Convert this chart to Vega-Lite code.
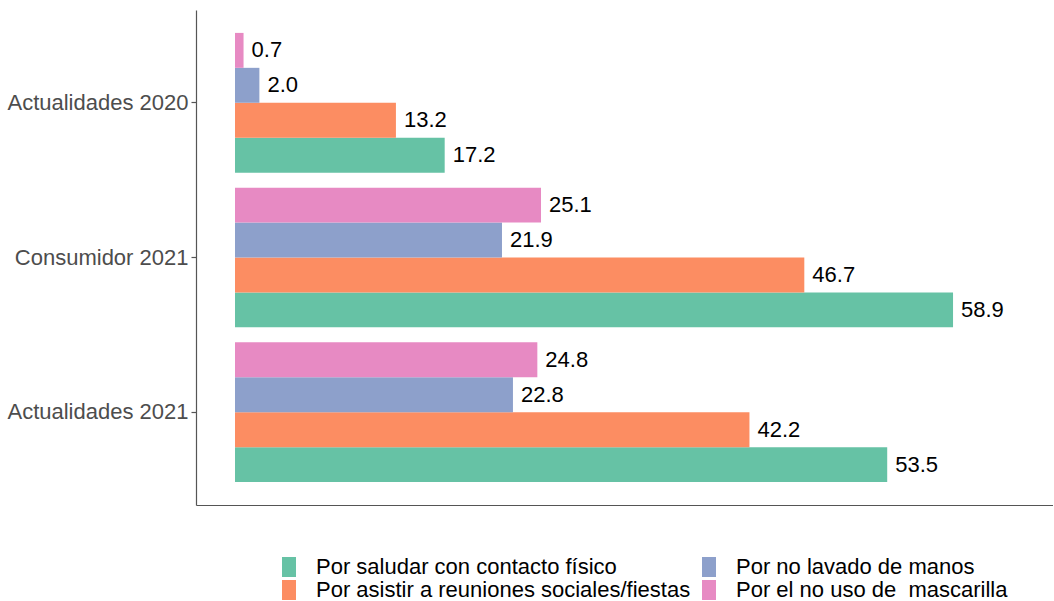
{
  "$schema": "https://vega.github.io/schema/vega-lite/v6.json",
  "width": 857,
  "height": 495,
  "padding": {"left": 6, "top": 10, "right": 0, "bottom": 0},
  "background": "white",
  "config": {
    "view": {"stroke": null},
    "font": "Liberation Sans"
  },
  "data": {
    "values": [
      {"grupo": "Actualidades 2020", "motivo": "Por saludar con contacto físico", "valor": 17.2},
      {"grupo": "Actualidades 2020", "motivo": "Por asistir a reuniones sociales/fiestas", "valor": 13.2},
      {"grupo": "Actualidades 2020", "motivo": "Por no lavado de manos", "valor": 2.0},
      {"grupo": "Actualidades 2020", "motivo": "Por el no uso de \u00a0mascarilla", "valor": 0.7},
      {"grupo": "Consumidor 2021", "motivo": "Por saludar con contacto físico", "valor": 58.9},
      {"grupo": "Consumidor 2021", "motivo": "Por asistir a reuniones sociales/fiestas", "valor": 46.7},
      {"grupo": "Consumidor 2021", "motivo": "Por no lavado de manos", "valor": 21.9},
      {"grupo": "Consumidor 2021", "motivo": "Por el no uso de \u00a0mascarilla", "valor": 25.1},
      {"grupo": "Actualidades 2021", "motivo": "Por saludar con contacto físico", "valor": 53.5},
      {"grupo": "Actualidades 2021", "motivo": "Por asistir a reuniones sociales/fiestas", "valor": 42.2},
      {"grupo": "Actualidades 2021", "motivo": "Por no lavado de manos", "valor": 22.8},
      {"grupo": "Actualidades 2021", "motivo": "Por el no uso de \u00a0mascarilla", "valor": 24.8}
    ]
  },
  "encoding": {
    "y": {
      "field": "grupo",
      "type": "nominal",
      "sort": ["Actualidades 2020", "Consumidor 2021", "Actualidades 2021"],
      "scale": {"paddingInner": 0.097, "paddingOuter": 0.148},
      "axis": {
        "title": null,
        "labelFontSize": 22,
        "labelColor": "#4d4d4d",
        "labelLimit": 400,
        "labelPadding": 3,
        "tickColor": "#555555",
        "tickSize": 5,
        "domainColor": "#555555",
        "domainWidth": 1.2,
        "tickWidth": 1.2
      }
    },
    "yOffset": {
      "field": "motivo",
      "type": "nominal",
      "sort": ["Por el no uso de \u00a0mascarilla", "Por no lavado de manos", "Por asistir a reuniones sociales/fiestas", "Por saludar con contacto físico"],
      "scale": {"paddingInner": 0, "paddingOuter": 0}
    },
    "x": {
      "field": "valor",
      "type": "quantitative",
      "scale": {"domain": [-3.2, 67.1], "nice": false, "zero": false},
      "axis": {
        "title": null,
        "labels": false,
        "ticks": false,
        "grid": false,
        "domainColor": "#555555",
        "domainWidth": 1.2
      }
    }
  },
  "layer": [
    {
      "mark": {"type": "bar"},
      "encoding": {
        "x2": {"datum": 0},
        "color": {
          "field": "motivo",
          "type": "nominal",
          "scale": {
            "domain": ["Por saludar con contacto físico", "Por asistir a reuniones sociales/fiestas", "Por no lavado de manos", "Por el no uso de \u00a0mascarilla"],
            "range": ["#66c2a5", "#fc8d62", "#8da0cb", "#e78ac3"]
          },
          "legend": {
            "title": null,
            "orient": "none",
            "legendX": 82,
            "legendY": 546,
            "columns": 2,
            "columnPadding": 7,
            "rowPadding": 1,
            "labelFontSize": 22,
            "labelColor": "black",
            "labelLimit": 600,
            "symbolType": "M-0.7,-1H0.7V1H-0.7Z",
            "symbolSize": 400,
            "symbolStrokeWidth": 0,
            "symbolOpacity": 1,
            "labelOffset": 16
          }
        }
      }
    },
    {
      "mark": {"type": "text", "align": "left", "baseline": "middle", "dx": 8, "fontSize": 22, "color": "black"},
      "encoding": {
        "text": {"field": "valor", "type": "quantitative", "format": ".1f"}
      }
    }
  ]
}
